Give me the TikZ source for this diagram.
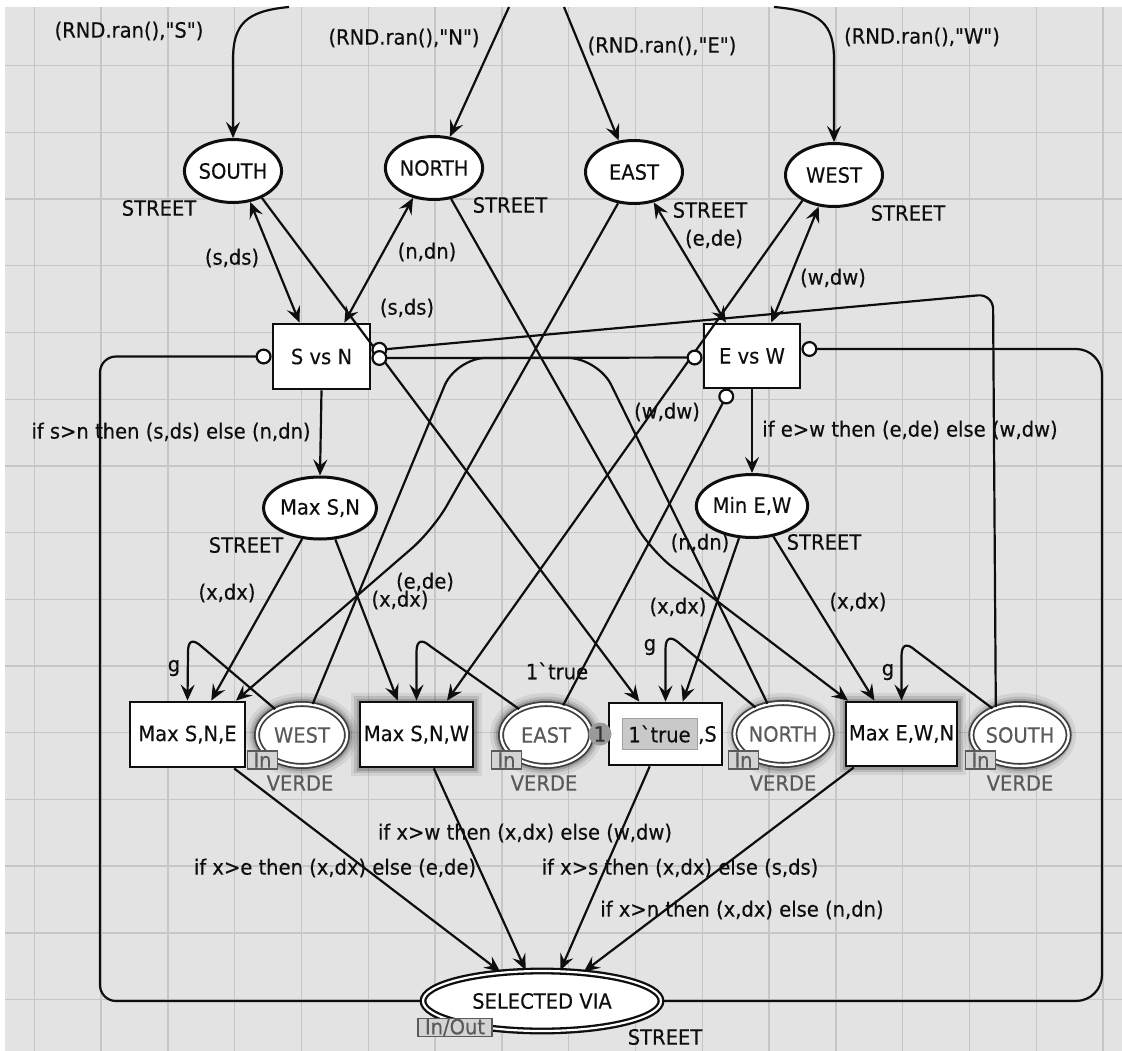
\documentclass[tikz,border=0pt]{standalone}
\usepackage{fontspec}
\setmainfont{DejaVu Sans}
\newfontfamily\cpnfont{DejaVu Sans}[FakeStretch=0.93,FakeBold=0.35]
\usetikzlibrary{shapes.geometric,arrows.meta}
\definecolor{bgc}{HTML}{E3E3E3}
\definecolor{gridc}{HTML}{C6C6C6}
\definecolor{ink}{HTML}{0E0E0E}
\definecolor{dimc}{HTML}{5A5A5A}
\definecolor{tagc}{HTML}{D4D4D4}
\definecolor{markc}{HTML}{C9C9C9}
\definecolor{tokc}{HTML}{9A9A9A}
\newcommand{\cpnlab}{\cpnfont\fontsize{21}{23}\selectfont}
\newcommand{\cpntag}{\cpnfont\fontsize{21}{21}\selectfont}
\newcommand{\gravech}{\char"60\relax}
\begin{document}
\begin{tikzpicture}[x=1pt,y=-1pt,
  place/.style={ellipse,draw=ink,line width=3pt,fill=white,inner sep=0pt,minimum width=97pt,minimum height=63pt,font=\cpnlab,text=ink},
  vplace/.style={ellipse,draw=black!75,line width=1.8pt,double=white,double distance=2.4pt,fill=white,inner sep=0pt,minimum width=90pt,minimum height=62pt,font=\cpnlab,text=dimc},
  trans/.style={rectangle,draw=ink,line width=2.8pt,fill=white,inner sep=0pt,font=\cpnlab,text=ink},
  arc/.style={draw=ink,line width=2.2pt,-{Stealth[length=16pt,width=14pt,inset=6pt]}},
  biarc/.style={draw=ink,line width=2.2pt,{Stealth[length=16pt,width=14pt,inset=6pt]}-{Stealth[length=16pt,width=14pt,inset=6pt]}},
  inh/.style={draw=ink,line width=2.2pt,-{Circle[open,fill=white,length=16pt,width=16pt]}},
  lbl/.style={font=\cpnlab,text=ink,inner sep=0pt},
  vlbl/.style={font=\cpnlab,text=dimc,inner sep=0pt},
  iotag/.style={draw=dimc,fill=tagc,line width=1.5pt,font=\cpntag,text=dimc,inner sep=0pt,minimum height=18pt}
]
\useasboundingbox (0,0) rectangle (1122,1051);
% background and grid
\fill[white] (0,0) rectangle (1122,1051);
\fill[bgc] (5,7) rectangle (1122,1051);
\foreach \k in {0,...,16} \draw[gridc,line width=1.4pt] ({34.3+66.8*\k},7) -- ({34.3+66.8*\k},1051);
\foreach \k in {0,...,14} \draw[gridc,line width=1.4pt] (5,{65.7+66.7*\k}) -- (1122,{65.7+66.7*\k});

% glows
\foreach \x in {302,546,783,1020}{
  \foreach \w/\o in {20/0.07,13/0.11,8/0.17}{
    \draw[black,line width=\w pt,opacity=\o] (\x,735) ellipse [x radius=46, y radius=32];}}
\foreach \w/\o in {18/0.07,12/0.11,7/0.17}{
  \draw[black,line width=\w pt,opacity=\o] (360,702) rectangle (473,767);
  \draw[black,line width=\w pt,opacity=\o] (846,702) rectangle (957,766);}

% places
\node[place] (S) at (233,171) {SOUTH};
\node[place] (N) at (434,168) {NORTH};
\node[place] (E) at (634,172) {EAST};
\node[place] (W) at (834,175) {WEST};
\node[place,minimum width=95pt,minimum height=62pt] (MSN) at (320,508) {Max S,N};
\node[place,minimum width=95pt,minimum height=63pt] (MEW) at (752,506) {Min E,W};
\node[vplace] (P1) at (302,735) {WEST};
\node[vplace] (P2) at (546,735) {EAST};
\node[vplace] (P3) at (783,734) {NORTH};
\node[vplace] (P4) at (1020,735) {SOUTH};
\node[ellipse,draw=ink,line width=2.3pt,double=white,double distance=2.2pt,fill=white,inner sep=0pt,minimum width=238pt,minimum height=60pt,font=\cpnlab,text=ink] (SEL) at (542,1001) {SELECTED VIA};

% transitions
\node[trans,minimum width=97pt,minimum height=65pt] (SvN) at (321.5,356.5) {S vs N};
\node[trans,minimum width=96pt,minimum height=64pt] (EvW) at (752,356) {E vs W};
\node[trans,minimum width=115pt,minimum height=65pt] (T1) at (187.5,734.5) {Max S,N,E};
\node[trans,minimum width=113pt,minimum height=65pt] (T2) at (416.5,734.5) {Max S,N,W};
\node[trans,minimum width=113pt,minimum height=62pt] (T3) at (665.5,734) {};
\node[trans,minimum width=111pt,minimum height=64pt] (T4) at (901.5,734) {Max E,W,N};

% free ends at the top
\coordinate (topS) at (289,7);
\coordinate (topN) at (509,7);
\coordinate (topE) at (564,7);
\coordinate (topW) at (774,7);

% top arcs
\draw[arc] (topS) .. controls (246,11) and (233,24) .. (233,60) -- (S.north);
\draw[arc] (topN) -- (N.63);
\draw[arc] (topE) -- (E.116);
\draw[arc] (topW) .. controls (821,11) and (834,24) .. (834,60) -- (W.north);

% place <-> transition
\draw[biarc] (S.-61) -- (SvN.123.5);
\draw[biarc] (N.-125) -- (SvN.56.5);
\draw[biarc] (E.-57) -- (EvW.128);
\draw[biarc] (W.-116.6) -- (EvW.60.6);
\draw[arc] (SvN.south) -- (MSN.north);
\draw[arc] (EvW.south) -- (MEW.north);

% long arcs
\draw[arc] (S.-43) -- (T3.129.4);
\draw[arc,rounded corners=28pt] (N.-61.4) -- (650,550) -- (T4.148);
\draw[arc,rounded corners=28pt] (E.-117.3) -- (433,530) -- (T1.35.5);
\draw[arc] (W.-141.3) -- (T2.48.7);
\draw[arc] (MSN.-120) -- (T1.55.3);
\draw[arc] (MSN.-64.2) -- (T2.119.6);
\draw[arc] (MEW.-112) -- (T3.62);
\draw[arc] (MEW.-55.9) -- (T4.129.6);

% g loops
\draw[arc] (P1.136) -- (201,646) .. controls (193,639) and (188,640) .. (188,652) -- (T1.north);
\draw[arc] (P2.136) -- (430,646) .. controls (422,639) and (416.5,640) .. (416.5,652) -- (T2.north);
\draw[arc] (P3.136) -- (679,643) .. controls (671,636) and (665.5,637) .. (665.5,649) -- (T3.north);
\draw[arc] (P4.136) -- (915,650) .. controls (907,643) and (901.5,644) .. (901.5,656) -- (T4.north);

% inhibitor arcs
\draw[inh,rounded corners=16pt] (SEL.west) -- (100,1001) -- (100,356.5) -- (SvN.west);
\draw[inh,rounded corners=26pt] (SEL.east) -- (1102,1001) -- (1102,349) -- ([yshift=7pt]EvW.east);
\draw[inh,rounded corners=15pt] (P4.131) -- (993,294) -- ([yshift=6pt]SvN.east);
\draw[inh,rounded corners=30pt] (P3.117) -- (598,358) -- ([yshift=-1.5pt]SvN.east);
\draw[inh,rounded corners=30pt] (P1.71) -- (456,358) -- ([yshift=-1.5pt]EvW.west);
\draw[inh] (P2.60.5) -- ([xshift=-22pt]EvW.south);

% to SELECTED VIA
\draw[arc] (T1.-36.1) -- (SEL.145.4);
\draw[arc] (T2.-63.1) -- (SEL.118.7);
\draw[arc] (T3.-116.6) -- (SEL.59.9);
\draw[arc] (T4.-145.5) -- (SEL.35.8);

% marking of middle transition
\node[fill=markc,draw=markc!80!black,line width=0.6pt,minimum width=75pt,minimum height=31pt,inner sep=0pt,font=\cpnlab,text=ink] (mk) at (659.5,734) {1\gravech true};
\node[lbl,anchor=west] (t3rest) at (698,735) {,S};
\node[circle,fill=tokc,minimum size=23pt,inner sep=0pt,font=\cpnlab,text=ink!85] (tok) at (600,734) {1};

% In tags
\node[iotag,minimum width=30pt] (in1) at (262.5,760) {In};
\node[iotag,minimum width=30pt] (in2) at (506.5,760) {In};
\node[iotag,minimum width=30pt] (in3) at (743.5,760) {In};
\node[iotag,minimum width=30pt] (in4) at (980.5,760) {In};
\node[iotag,minimum width=74pt] (inout) at (455,1027.5) {In/Out};

% colour set labels
\node[lbl] (cs1) at (159,208) {STREET};
\node[lbl] (cs2) at (510,205) {STREET};
\node[lbl] (cs3) at (710,210) {STREET};
\node[lbl] (cs4) at (908,213) {STREET};
\node[lbl] (cs5) at (246,545) {STREET};
\node[lbl] (cs6) at (824,542) {STREET};
\node[lbl] (cs7) at (665,1037) {STREET};
\node[vlbl] (v1) at (300,783) {VERDE};
\node[vlbl] (v2) at (544,783) {VERDE};
\node[vlbl] (v3) at (783,783) {VERDE};
\node[vlbl] (v4) at (1020,783) {VERDE};

% arc inscriptions
\node[lbl] (a1) at (129,31) {(RND.ran(),"S")};
\node[lbl] (a2) at (404,38) {(RND.ran(),"N")};
\node[lbl] (a3) at (662,46) {(RND.ran(),"E")};
\node[lbl] (a4) at (922,37) {(RND.ran(),"W")};
\node[lbl] (a5) at (232,258) {(s,ds)};
\node[lbl] (a6) at (427,252) {(n,dn)};
\node[lbl] (a7) at (407,308) {(s,ds)};
\node[lbl] (a8) at (714,239) {(e,de)};
\node[lbl] (a9) at (833,278) {(w,dw)};
\node[lbl] (a10) at (171,432) {if s>n then (s,ds) else (n,dn)};
\node[lbl] (a11) at (910,430) {if e>w then (e,de) else (w,dw)};
\node[lbl] (a12) at (667,412) {(w,dw)};
\node[lbl] (a13) at (700,543) {(n,dn)};
\node[lbl] (a14) at (227,593) {(x,dx)};
\node[lbl] (a15) at (425,582) {(e,de)};
\node[lbl] (a16) at (400,600) {(x,dx)};
\node[lbl] (a17) at (678,607) {(x,dx)};
\node[lbl] (a18) at (858,602) {(x,dx)};
\node[lbl] (g1) at (174,668) {g};
\node[lbl] (g3) at (650,647) {g};
\node[lbl] (g4) at (888,672) {g};
\node[lbl] (a19) at (557,671) {1\gravech true};
\node[lbl] (a20) at (525,833) {if x>w then (x,dx) else (w,dw)};
\node[lbl] (a21) at (335,868) {if x>e then (x,dx) else (e,de)};
\node[lbl] (a22) at (680,868) {if x>s then (x,dx) else (s,ds)};
\node[lbl] (a23) at (742,910) {if x>n then (x,dx) else (n,dn)};
\end{tikzpicture}
\end{document}
